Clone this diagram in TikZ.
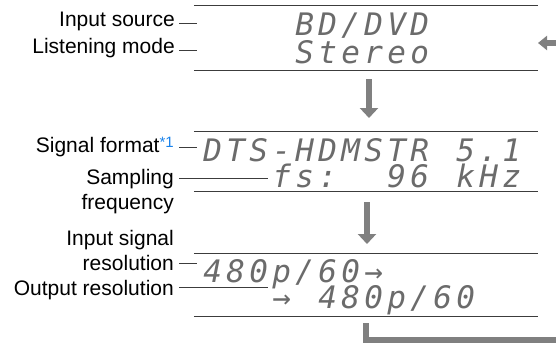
\documentclass[tikz,border=0pt]{standalone}
\usepackage{fontspec}
\setmainfont{Liberation Sans}
\newfontfamily\dmfont{DejaVu Sans Mono}
\usetikzlibrary{arrows.meta}
\definecolor{arrowgray}{RGB}{128,128,128}
\definecolor{linegray}{RGB}{60,60,60}
\definecolor{noteblue}{RGB}{25,130,235}
\def\dmx#1{\ifx#1\relax\else\makebox[23pt][c]{#1}\expandafter\dmx\fi}
\begin{document}
\begin{tikzpicture}[x=1pt,y=-1pt,
  lab/.style={font=\fontsize{21}{25}\selectfont, inner sep=0pt, anchor=base east},
  dm/.style={font=\dmfont\itshape\fontsize{31}{36}\selectfont, text=black!58, inner sep=0pt,
    text height=23pt, text depth=0pt, anchor=base west},
  leader/.style={draw=linegray, line width=1pt},
  panelline/.style={draw=linegray, line width=1.3pt},
  panel/.style={minimum width=344pt, inner sep=0pt, draw=none},
  bigarrow/.style={draw=arrowgray, line width=6pt, -{Triangle[width=18pt,length=10pt]}},
  sidearrow/.style={draw=arrowgray, line width=6pt, -{Triangle[width=14pt,length=9pt]}},
  loopline/.style={draw=arrowgray, line width=6.5pt}]
\useasboundingbox (0,0) rectangle (556,343);

% panels
\node[panel, minimum height=64pt] (p1) at (366,38) {};
\node[panel, minimum height=59pt] (p2) at (366,161.5) {};
\node[panel, minimum height=62pt] (p3) at (366,285) {};
\foreach \p in {p1,p2,p3}{
  \draw[panelline] (\p.north west) -- (\p.north east);
  \draw[panelline] (\p.south west) -- (\p.south east);
}

% display texts
\node[dm] (t1a) at (293,35) {\dmx BD/DVD\relax};
\node[dm] (t1b) at (293,63) {\dmx Stereo\relax};
\node[dm] (t2a) at (201,161) {\dmx DTS-HDMSTR~5.1\relax};
\node[dm] (t2b) at (270,187) {\dmx fs:~~96~kHz\relax};
\node[dm] (t3a) at (201,282) {\dmx 480p/60→\relax};
\node[dm] (t3b) at (270,308) {\dmx →~480p/60\relax};

% labels
\node[lab] (lIS) at (175,26) {Input source};
\node[lab] (lLM) at (175,53) {Listening mode};
\node[lab] (lSF) at (174,152) {Signal format\raisebox{4.3pt}{\fontsize{15}{15}\selectfont\color{noteblue}*1}};
\node[lab] (lSa) at (174,184) {Sampling};
\node[lab] (lSb) at (174,209) {frequency};
\node[lab] (lRa) at (174,245) {Input signal};
\node[lab] (lRb) at (174,270) {resolution};
\node[lab] (lOR) at (174,295) {Output resolution};

% leader lines
\coordinate (c1a) at (179,23);  \coordinate (c1b) at (197,23);
\coordinate (c2a) at (179,50);  \coordinate (c2b) at (197,50);
\coordinate (c3a) at (179,147); \coordinate (c3b) at (197,147);
\coordinate (c4a) at (179,178); \coordinate (c4b) at (268,178);
\coordinate (c5a) at (179,263); \coordinate (c5b) at (197,263);
\coordinate (c6a) at (179,287); \coordinate (c6b) at (268,287);
\draw[leader] (c1a) -- (c1b);
\draw[leader] (c2a) -- (c2b);
\draw[leader] (c3a) -- (c3b);
\draw[leader] (c4a) -- (c4b);
\draw[leader] (c5a) -- (c5b);
\draw[leader] (c6a) -- (c6b);

% flow arrows
\coordinate (a1s) at (369,79);  \coordinate (a1e) at (369,118);
\coordinate (a2s) at (367,202); \coordinate (a2e) at (367,244);
\coordinate (a3s) at (562,43);  \coordinate (a3e) at (538,43);
\coordinate (l1) at (366,323); \coordinate (l2) at (366,340); \coordinate (l3) at (562,340);
\draw[bigarrow] (a1s) -- (a1e);
\draw[bigarrow] (a2s) -- (a2e);
\draw[sidearrow] (a3s) -- (a3e);
\draw[loopline] (l1) -- (l2) -- (l3);
\end{tikzpicture}
\end{document}
